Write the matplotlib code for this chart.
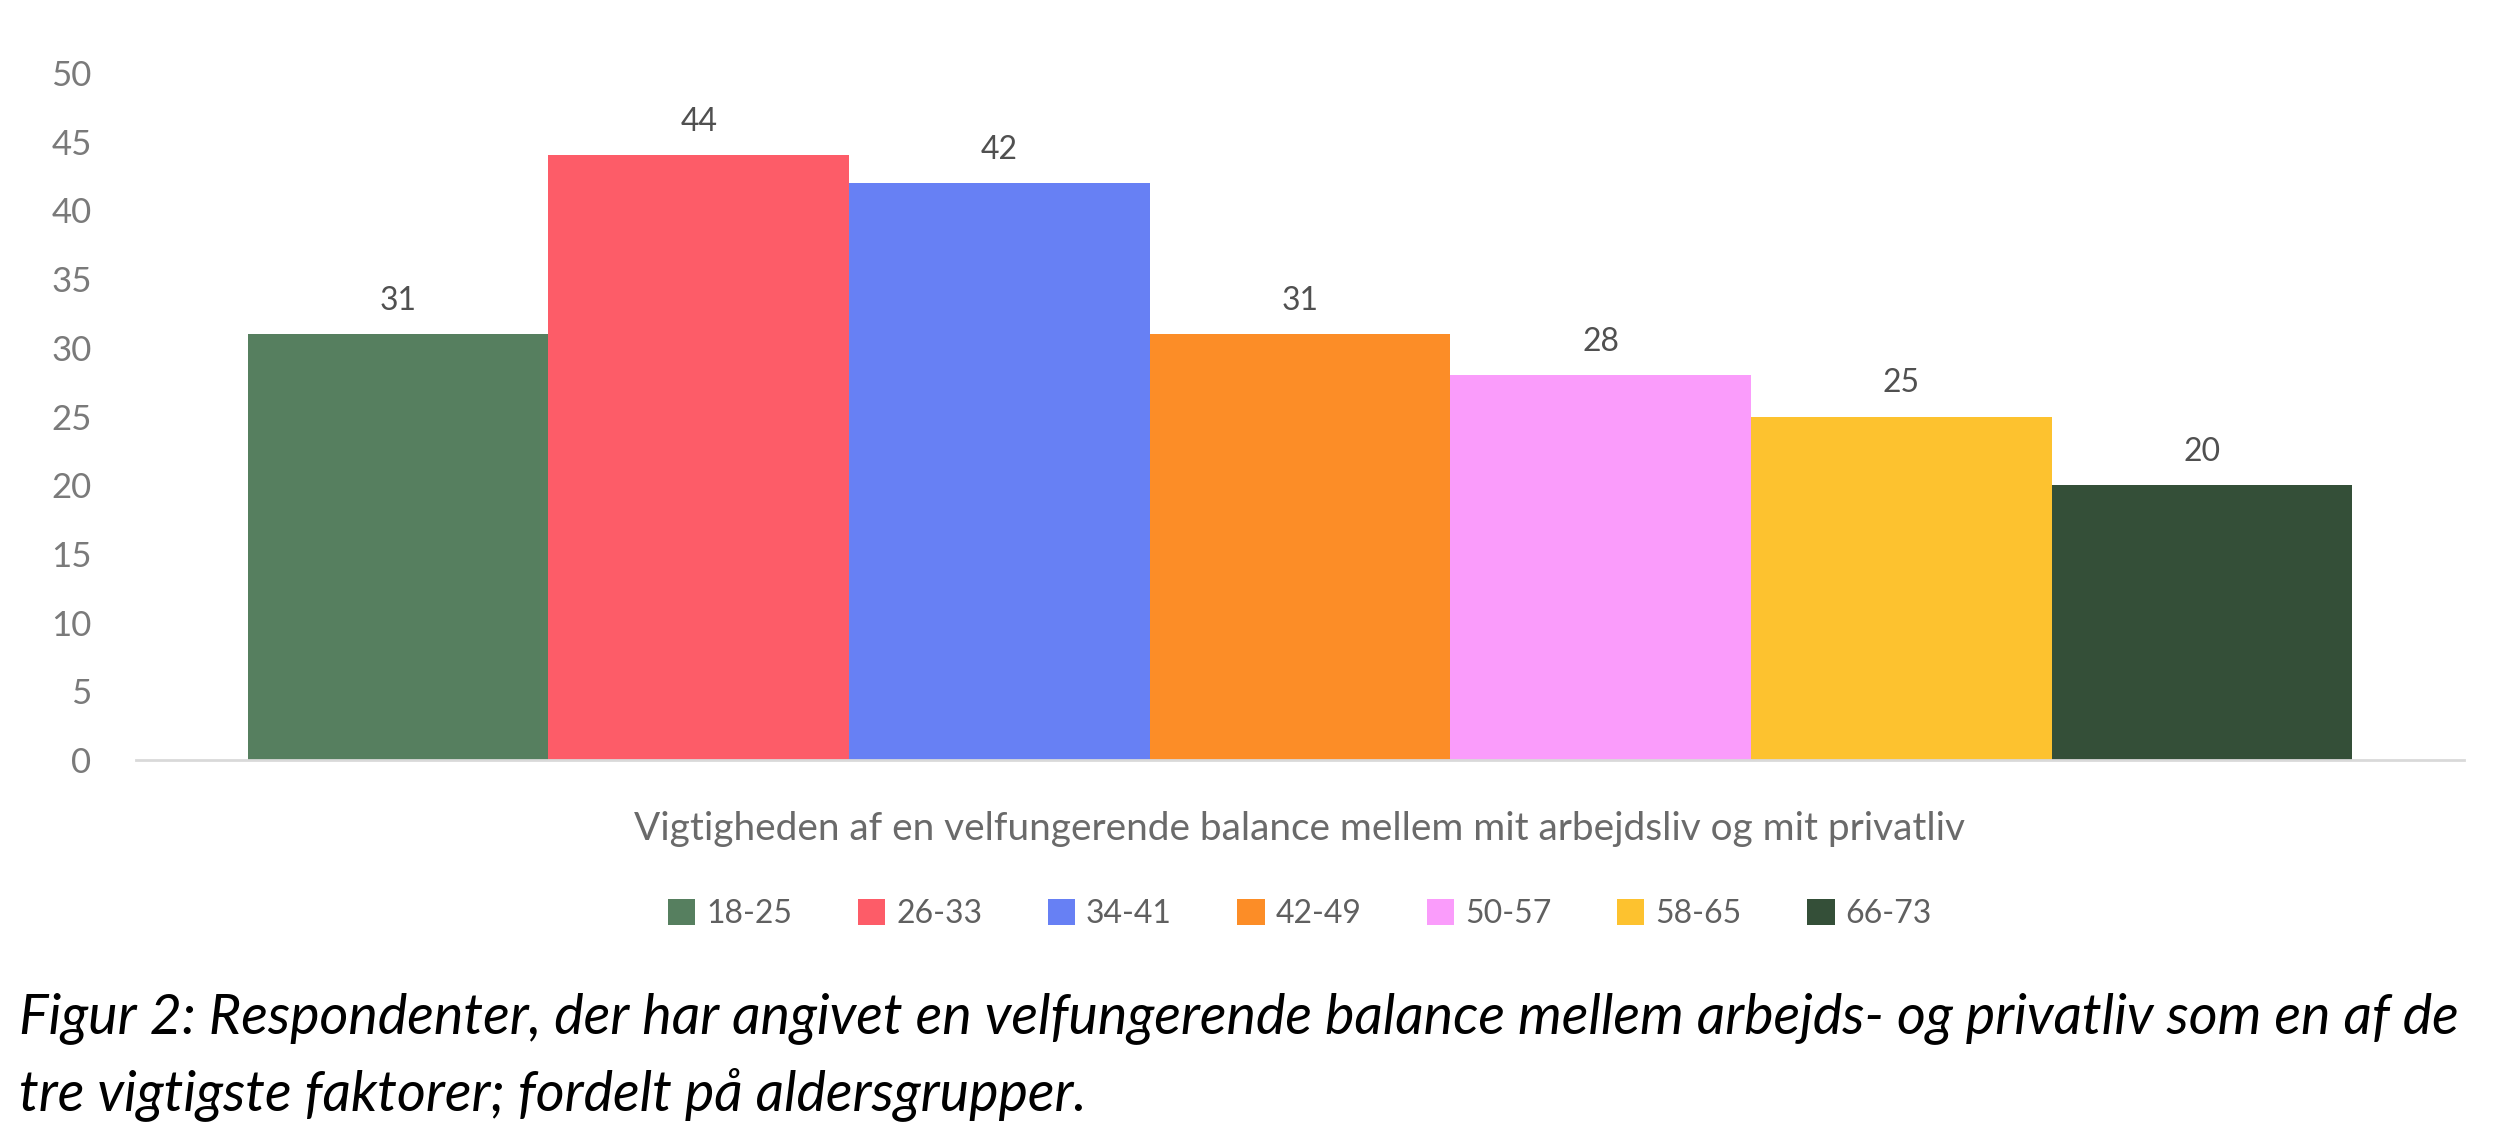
import matplotlib
matplotlib.use("Agg")
import matplotlib.pyplot as plt
from matplotlib.patches import Patch

# ---- data ----
category = "Vigtigheden af en velfungerende balance mellem mit arbejdsliv og mit privatliv"
age_groups = ["18-25", "26-33", "34-41", "42-49", "50-57", "58-65", "66-73"]
values = [31, 44, 42, 31, 28, 25, 20]
colors = ["#567F5F", "#FD5C68", "#6780F4", "#FC8D27", "#FA9CFB", "#FDC22F", "#344F38"]
y_ticks = [0, 5, 10, 15, 20, 25, 30, 35, 40, 45, 50]
caption_lines = [
    "Figur 2: Respondenter, der har angivet en velfungerende balance mellem arbejds- og privatliv som en af de",
    "tre vigtigste faktorer; fordelt på aldersgrupper.",
]

W, H = 2508, 1140
plt.rcParams["font.family"] = ["Lato", "DejaVu Sans"]

fig = plt.figure(figsize=(W / 100, H / 100), dpi=100)
fig.patch.set_facecolor("white")

ax = fig.add_axes([136 / W, 380 / H, 2328 / W, 687 / H])
x = list(range(len(values)))
bars = ax.bar(x, values, width=1.0, color=colors, linewidth=0)
gap = 0.372
ax.set_xlim(-0.5 - gap, len(values) - 0.5 + gap)
ax.set_ylim(0, 50)
for s in ["top", "right", "left"]:
    ax.spines[s].set_visible(False)
ax.spines["bottom"].set_color("#D9D9D9")
ax.spines["bottom"].set_linewidth(2)
ax.set_xticks([])
ax.set_yticks(y_ticks)
ax.set_yticklabels([str(t) for t in y_ticks])
ax.tick_params(axis="y", length=0, pad=32, labelsize=25, labelcolor="#7A7A7A")
ax.bar_label(bars, labels=[str(v) for v in values], padding=13, fontsize=23, color="#505050")

fig.canvas.draw()
renderer = fig.canvas.get_renderer()

def fit_text(t, target_w):
    bb = t.get_window_extent(renderer)
    t.set_fontsize(t.get_fontsize() * target_w / bb.width)

xt = fig.text(1300 / W, (H - 829) / H, category, ha="center", va="center",
              fontsize=22, color="#6A6A6A")
fit_text(xt, 1327)

handles = [Patch(facecolor=c, edgecolor="none") for c in colors]
fig.legend(handles, age_groups, loc="center", bbox_to_anchor=(1300 / W, (H - 914) / H),
           ncol=7, frameon=False, fontsize=23, handlelength=0.85, handleheight=0.85,
           handletextpad=0.35, columnspacing=2.05, labelcolor="#606060")

c1 = fig.text(19 / W, (H - 1018) / H, caption_lines[0], ha="left", va="center",
              fontsize=28, style="italic", color="black")
fit_text(c1, 2445)
c2 = fig.text(19 / W, (H - 1094) / H, caption_lines[1], ha="left", va="center",
              fontsize=c1.get_fontsize(), style="italic", color="black")

fig.savefig("out.png", dpi=100, facecolor="white")
